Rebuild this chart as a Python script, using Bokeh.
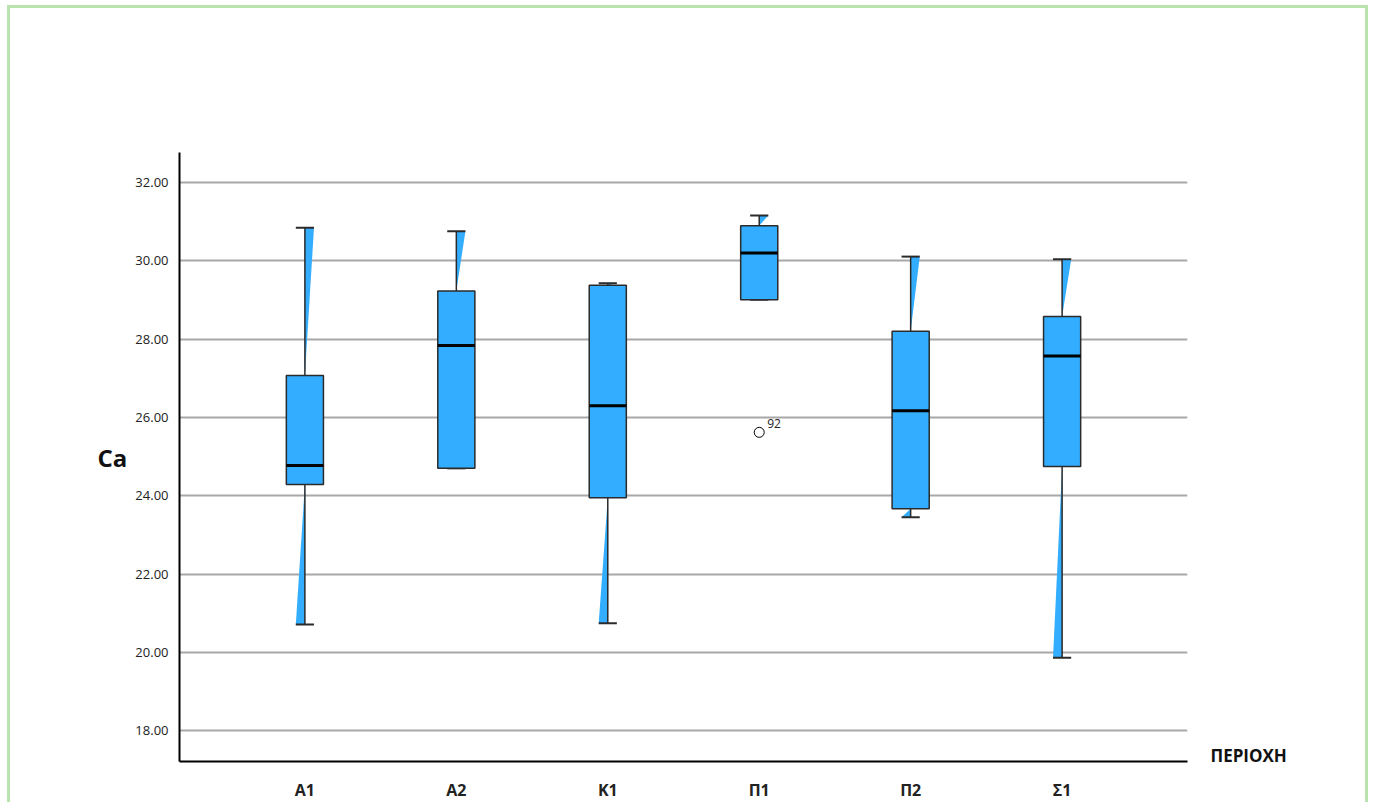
from bokeh.plotting import figure
from bokeh.models import Range1d, FixedTicker, LinearAxis, ColumnDataSource
from bokeh.core.properties import value
from bokeh.embed import file_html
from bokeh.resources import INLINE

# Ca per region (ΠΕΡΙΟΧΗ): five-number summaries of each box
categories = ["Α1", "Α2", "Κ1", "Π1", "Π2", "Σ1"]
whisker_low = [20.71, 24.70, 20.74, 29.01, 23.45, 19.86]
q1 = [24.29, 24.70, 23.95, 29.01, 23.67, 24.75]
median = [24.77, 27.84, 26.30, 30.20, 26.17, 27.57]
q3 = [27.07, 29.23, 29.38, 30.90, 28.20, 28.58]
whisker_high = [30.85, 30.76, 29.43, 31.16, 30.11, 30.04]

outlier_category = ["Π1"]
outlier_value = [25.62]
outlier_case = ["92"]

y_ticks = [18, 20, 22, 24, 26, 28, 30, 32]
y_tick_labels = ["18.00", "20.00", "22.00", "24.00", "26.00", "28.00", "30.00", "32.00"]

FONT = "Open Sans"
BLUE = "#33adff"
EDGE = "#2b2b2b"

xs = list(range(len(categories)))
box_w = 0.245
cap_half = 0.06

src = ColumnDataSource(dict(
    x=xs, low=whisker_low, q1=q1, med=median, q3=q3, high=whisker_high,
    xl=[x - box_w / 2 for x in xs], xr=[x + box_w / 2 for x in xs],
    cl=[x - cap_half for x in xs], cr=[x + cap_half for x in xs],
))

p = figure(width=1361, height=797, output_backend="svg", toolbar_location=None,
           x_range=Range1d(-0.828, 5.828), y_range=Range1d(17.21, 32.77),
           min_border_left=169, min_border_right=184, min_border_top=144,
           min_border_bottom=44)
p.styles = {"margin-left": "7px", "margin-top": "5px",
            "border-left": "3px solid #b9e4ae", "border-top": "3px solid #b9e4ae",
            "border-right": "3px solid #b9e4ae"}
p.outline_line_color = None
p.background_fill_color = "white"
p.border_fill_color = "white"

# axes
p.xgrid.visible = False
p.ygrid.grid_line_color = "#a8a8a8"
p.ygrid.grid_line_width = 2
p.yaxis.ticker = FixedTicker(ticks=y_ticks)
p.yaxis.major_label_overrides = {t: s for t, s in zip(y_ticks, y_tick_labels)}
p.xaxis.ticker = FixedTicker(ticks=xs)
p.xaxis.major_label_overrides = {x: c for x, c in zip(xs, categories)}
for ax in (p.xaxis, p.yaxis):
    ax.axis_line_color = "black"
    ax.axis_line_width = 2
    ax.major_tick_line_color = None
    ax.minor_tick_line_color = None
    ax.major_label_text_font = FONT
    ax.major_label_text_color = "#222222"
p.yaxis.major_label_text_font_size = "13px"
p.yaxis.major_label_standoff = 5
p.xaxis.major_label_text_font_size = "16px"
p.xaxis.major_label_text_font_style = "bold"
p.xaxis.major_label_standoff = 11

# y axis title, written horizontally
p.yaxis.axis_label = "Ca"
p.yaxis.axis_label_orientation = "horizontal"
p.yaxis.axis_label_standoff = 5
p.yaxis.axis_label_text_font = FONT
p.yaxis.axis_label_text_font_size = "24px"
p.yaxis.axis_label_text_font_style = "bold"
p.yaxis.axis_label_text_color = "#111111"

# x axis title, placed at the right end of the category axis
title_axis = LinearAxis(ticker=FixedTicker(ticks=[17.36]),
                        major_label_overrides={17.36: "ΠΕΡΙΟΧΗ"})
title_axis.axis_line_color = None
title_axis.major_tick_line_color = None
title_axis.minor_tick_line_color = None
title_axis.major_label_standoff = 17
title_axis.major_label_text_font = FONT
title_axis.major_label_text_font_size = "17px"
title_axis.major_label_text_font_style = "bold"
title_axis.major_label_text_color = "#111111"
p.add_layout(title_axis, "right")

# whisker wedges
wedge_xs, wedge_ys = [], []
for x, lo, a, b, hi in zip(xs, whisker_low, q1, q3, whisker_high):
    wedge_xs.append([x, x, x + cap_half])
    wedge_ys.append([b, hi, hi])
    wedge_xs.append([x, x, x - cap_half])
    wedge_ys.append([a, lo, lo])
p.patches(wedge_xs, wedge_ys, fill_color=BLUE, line_color=None)

# whiskers and caps
p.segment("x", "q3", "x", "high", source=src, line_color=EDGE, line_width=1.5)
p.segment("x", "low", "x", "q1", source=src, line_color=EDGE, line_width=1.5)
p.segment("cl", "high", "cr", "high", source=src, line_color=EDGE, line_width=2)
p.segment("cl", "low", "cr", "low", source=src, line_color=EDGE, line_width=2)

# boxes and medians
p.vbar(x="x", width=box_w, bottom="q1", top="q3", source=src,
       fill_color=BLUE, line_color=EDGE, line_width=1.5)
p.segment("xl", "med", "xr", "med", source=src, line_color="black", line_width=3)

# outliers
ox = [categories.index(c) for c in outlier_category]
p.scatter(ox, outlier_value, marker="circle", size=10, fill_color=None,
          line_color="black", line_width=1)
p.text(ox, outlier_value, text=outlier_case, x_offset=8, y_offset=-4,
       text_baseline="bottom", text_align="left", text_font=value(FONT),
       text_font_size="12px", text_color="#222222")

open("out.html", "w").write(file_html(p, INLINE))
